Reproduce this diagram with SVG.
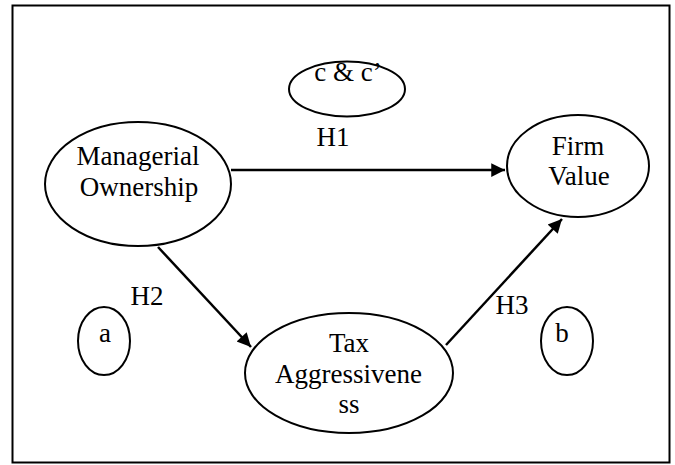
<svg xmlns="http://www.w3.org/2000/svg" width="675" height="465" viewBox="0 0 675 465">
<style>
.n{fill:#fff;stroke:#000;stroke-width:2}
.t{font-family:"Liberation Serif","Times New Roman",serif;font-size:27px;fill:#000;text-anchor:middle}
.c{stroke:#000;stroke-width:2.5;fill:none;marker-end:url(#ah)}
</style>
<defs>
<marker id="ah" viewBox="0 0 10 10" refX="10" refY="5" markerWidth="6.5" markerHeight="5.5" markerUnits="strokeWidth" orient="auto">
<path d="M0,0 L10,5 L0,10 z" fill="#000"/>
</marker>
</defs>
<rect x="12.5" y="5.5" width="657" height="457" fill="#fff" stroke="#000" stroke-width="2"/>
<g id="connectors">
<line class="c" x1="231" y1="170" x2="505" y2="170"/>
<line class="c" x1="158" y1="247" x2="251" y2="347"/>
<line class="c" x1="446" y1="345" x2="562" y2="219"/>
</g>
<g id="labels">
<text class="t" x="333" y="146">H1</text>
<text class="t" x="147" y="305">H2</text>
<text class="t" x="512" y="314">H3</text>
</g>
<g id="managerial">
<ellipse class="n" cx="138" cy="184" rx="93" ry="62"/>
<text class="t" x="138" y="165">Managerial</text>
<text class="t" x="139" y="196">Ownership</text>
</g>
<g id="firm">
<ellipse class="n" cx="578" cy="166" rx="71" ry="51"/>
<text class="t" x="578" y="155">Firm</text>
<text class="t" x="579" y="185">Value</text>
</g>
<g id="cc">
<ellipse class="n" cx="347" cy="89" rx="58" ry="27.5"/>
<text class="t" x="348" y="81">c &amp; c’</text>
</g>
<g id="tax">
<ellipse class="n" cx="349" cy="373" rx="104" ry="60"/>
<text class="t" x="349" y="352">Tax</text>
<text class="t" x="348.5" y="383">Aggressivene</text>
<text class="t" x="349" y="413">ss</text>
</g>
<g id="a">
<ellipse class="n" cx="104" cy="341" rx="26" ry="34"/>
<text class="t" x="105" y="342">a</text>
</g>
<g id="b">
<ellipse class="n" cx="567" cy="341" rx="26" ry="34"/>
<text class="t" x="562" y="342">b</text>
</g>
</svg>
